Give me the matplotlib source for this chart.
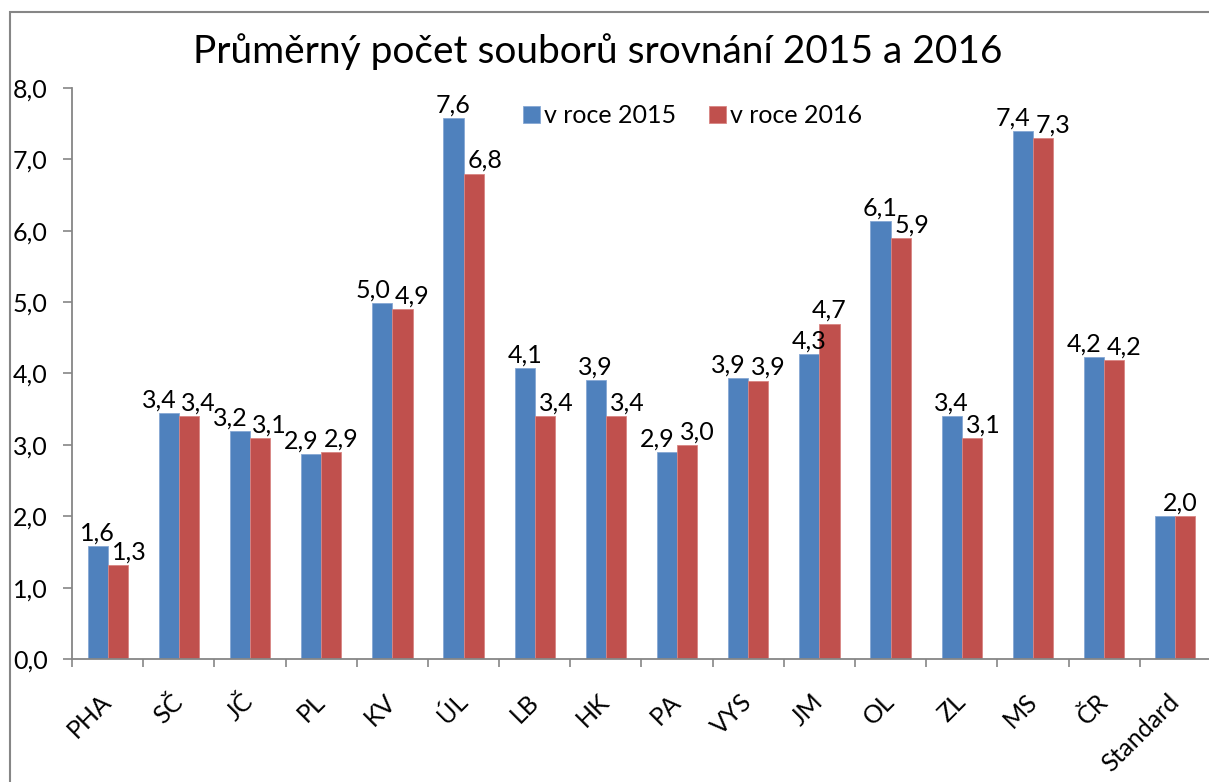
import matplotlib
matplotlib.use('Agg')
import matplotlib.pyplot as plt
from matplotlib.patches import Rectangle
import numpy as np

kraje = ['PHA', 'SČ', 'JČ', 'PL', 'KV', 'ÚL', 'LB', 'HK', 'PA', 'VYS',
         'JM', 'OL', 'ZL', 'MS', 'ČR', 'Standard']
rok2015 = [1.58, 3.44, 3.19, 2.87, 4.99, 7.58, 4.08, 3.91, 2.90, 3.94,
           4.27, 6.14, 3.40, 7.40, 4.23, 2.00]
rok2016 = [1.31, 3.40, 3.10, 2.90, 4.90, 6.80, 3.40, 3.40, 3.00, 3.90,
           4.70, 5.90, 3.10, 7.30, 4.19, 2.00]
yticks = [0, 1, 2, 3, 4, 5, 6, 7, 8]

modra = '#4F81BD'
cervena = '#C0504D'
seda = '#868686'
fs = 18

plt.rcParams['font.family'] = ['Lato', 'DejaVu Sans']

fig = plt.figure(figsize=(12.09, 7.82), dpi=100)
ax = fig.add_axes([0.0596, 0.1573, 0.942, 0.7302])

x = np.arange(len(kraje))
w = 0.283
ax.bar(x - w/2, rok2015, w, color=modra, edgecolor='#86A8D4', linewidth=0.6, label='v roce 2015')
ax.bar(x + w/2, rok2016, w, color=cervena, edgecolor='#D88583', linewidth=0.6, label='v roce 2016')

def fmt(v):
    return ('%.1f' % v).replace('.', ',')

# popisky hodnot, posunute aby se neprekryvaly
for i in range(len(kraje)):
    b = rok2015[i]
    r = rok2016[i]
    dxb, dxr, dyb = 0, 0, 4
    if kraje[i] == 'Standard':
        ax.annotate(fmt(r), (x[i] + w/2, r), xytext=(-4, 4), textcoords='offset points',
                    ha='center', va='baseline', fontsize=fs)
        continue
    if abs(b - r) < 0.2:
        dxb, dxr = -7, 7
    elif r < b:
        dxr = 8
    elif r - b < 0.2:
        dyb = -4
    ax.annotate(fmt(b), (x[i] - w/2, b), xytext=(dxb, dyb), textcoords='offset points',
                ha='center', va='baseline', fontsize=fs)
    ax.annotate(fmt(r), (x[i] + w/2, r), xytext=(dxr, 4), textcoords='offset points',
                ha='center', va='baseline', fontsize=fs)

ax.set_xlim(-0.5, len(kraje) - 0.5)
ax.set_ylim(0, 8)
ax.set_yticks(yticks)
ax.set_yticklabels([fmt(v) for v in yticks])
ax.set_xticks(x)
ax.set_xticklabels(kraje, rotation=45, ha='right', va='center', rotation_mode='anchor')
ax.set_xticks(np.arange(len(kraje) + 1) - 0.5, minor=True)

ax.tick_params(axis='y', length=6.5, width=1.2, color=seda, labelsize=fs, pad=11)
ax.tick_params(axis='x', which='major', length=0, labelsize=fs, pad=28)
ax.tick_params(axis='x', which='minor', length=5.5, width=1.2, color=seda)

for s in ['top', 'right']:
    ax.spines[s].set_visible(False)
for s in ['left', 'bottom']:
    ax.spines[s].set_color(seda)
    ax.spines[s].set_linewidth(1.3)
ax.spines['bottom'].set_clip_on(False)

fig.text(0.4946, 0.9335, 'Průměrný počet souborů srovnání 2015 a 2016',
         ha='center', va='center', fontsize=28)

fig.legend(loc='center', bbox_to_anchor=(0.5728, 0.8517), ncol=2, frameon=False,
           fontsize=fs, handlelength=0.7, handleheight=0.7, handletextpad=0.15,
           columnspacing=1.3, borderpad=0, borderaxespad=0)

# ramecek grafu (vidi se jen levy a horni okraj)
fig.patches.append(Rectangle((10/1209, -0.1), 1.2, 1.1 - 12/782, transform=fig.transFigure,
                             fill=False, edgecolor=seda, linewidth=1.5))

fig.savefig('out.png', dpi=100)
